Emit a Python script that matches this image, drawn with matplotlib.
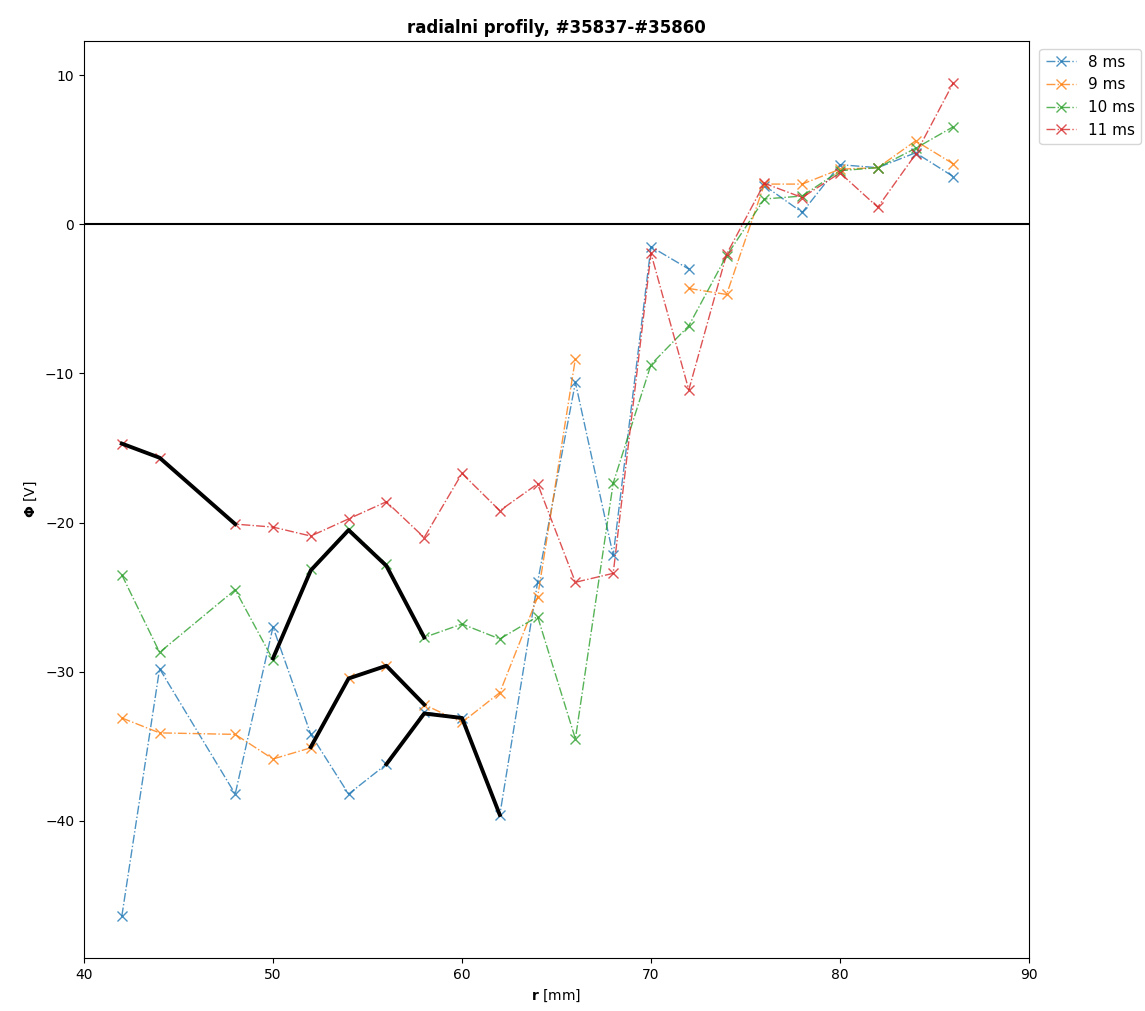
import matplotlib
matplotlib.use("Agg")
import matplotlib.pyplot as plt
import numpy as np

nan = np.nan

r = [42, 44, 48, 50, 52, 54, 56, 58, 60, 62, 64, 66, 68, 70, 72, 74, 76, 78, 80, 82, 84, 86]

phi_8ms = [-46.4, -29.8, -38.2, -27.0, -34.2, -38.2, -36.2, -32.7, -33.1, -39.6, -24.0, -10.6,
           -22.2, -1.5, -3.0, nan, 2.6, 0.8, 4.0, 3.8, 4.8, 3.2]
phi_9ms = [-33.1, -34.1, -34.2, -35.85, -35.1, -30.45, -29.6, -32.2, -33.4, -31.4, -25.0, -9.0,
           nan, nan, -4.3, -4.7, 2.7, 2.7, 3.7, 3.8, 5.6, 4.05]
phi_10ms = [-23.5, -28.7, -24.5, -29.2, -23.1, -20.4, -22.8, -27.7, -26.8, -27.8, -26.3, -34.5,
            -17.35, -9.4, -6.8, -2.1, 1.7, 1.9, 3.6, 3.8, 5.1, 6.55]
phi_11ms = [-14.7, -15.65, -20.1, -20.3, -20.9, -19.75, -18.6, -21.0, -16.7, -19.2, -17.4, -24.0,
            -23.4, -1.95, -11.1, -2.0, 2.75, 1.8, 3.45, 1.15, 4.7, 9.5]

series = [phi_8ms, phi_9ms, phi_10ms, phi_11ms]
labels = ["8 ms", "9 ms", "10 ms", "11 ms"]

# highlighted (thick black) pieces of the profiles
black_r = [[42, 44, 48], [50, 52, 54, 56, 58], [52, 54, 56, 58], [56, 58, 60, 62]]
black_phi = [[-14.7, -15.65, -20.1], [-29.1, -23.2, -20.5, -22.9, -27.7],
             [-35.05, -30.45, -29.6, -32.2], [-36.2, -32.8, -33.1, -39.6]]

fig = plt.figure(figsize=(11.45, 10.11), dpi=100)
ax = fig.add_axes([84 / 1145, 1 - 958 / 1011, (1029 - 84) / 1145, (958 - 41) / 1011])

for vals, lab in zip(series, labels):
    ax.plot(r, vals, "-.", marker="x", markersize=7, linewidth=1.0, alpha=0.8, label=lab)

for xs, ys in zip(black_r, black_phi):
    ax.plot(xs, ys, "-", color="k", linewidth=2.8)

ax.axhline(0, color="k", linewidth=1.5)
ax.set_xlim(40, 90)
ax.set_title("radialni profily, #35837-#35860", fontweight="bold")
ax.set_xlabel(r"$\mathbf{r}$ [mm]")
ax.set_ylabel(r"$\mathbf{\Phi}$ [V]")
ax.legend(loc="upper left", bbox_to_anchor=(1.003, 1.0), fontsize=11)

fig.savefig("out.png", dpi=100)
